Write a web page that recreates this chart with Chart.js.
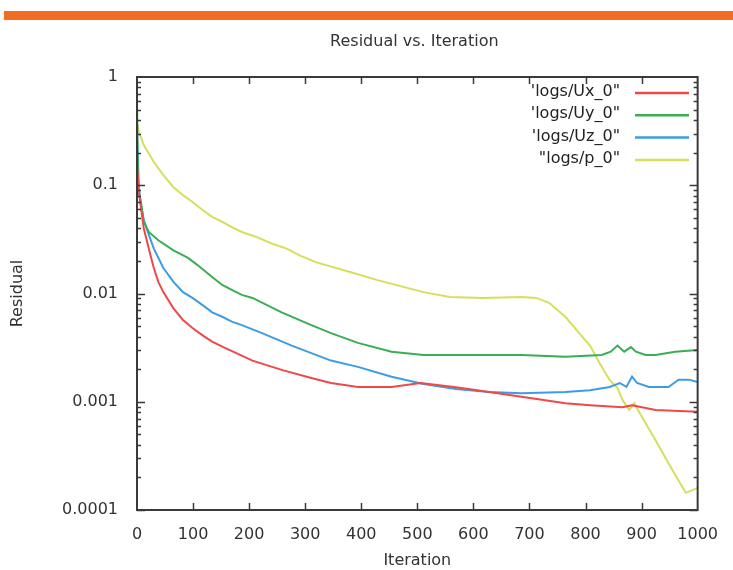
<!DOCTYPE html>
<html>
<head>
<meta charset="utf-8">
<script src="https://cdn.jsdelivr.net/npm/chart.js@4.4.0/dist/chart.umd.min.js"></script>
<style>
  html, body { margin: 0; padding: 0; background: #fff; }
  #wrap { position: relative; width: 733px; height: 570px; }
  #bar { position: absolute; left: 4px; top: 11px; width: 729px; height: 9px; background: #f26c21; }
  canvas { position: absolute; left: 0; top: 0; }
</style>
</head>
<body>
<div id="wrap">
  <canvas id="c" width="733" height="570"></canvas>
  <div id="bar"></div>
</div>
<script>
const chartTitle = 'Residual vs. Iteration';
const xTitle = 'Iteration';
const yTitle = 'Residual';
const yTickValues = [1, 0.1, 0.01, 0.001, 0.0001];
const yTickLabels = ['1', '0.1', '0.01', '0.001', '0.0001'];

const seriesLabels = ['\'logs/Ux_0"', '\'logs/Uy_0"', '\'logs/Uz_0"', '"logs/p_0"'];
const seriesColors = ['#f04848', '#3aad55', '#3e9ce2', '#d6df5c'];

const uxIter = [0, 3.5, 7, 12, 21, 30, 38, 47, 65, 82, 99, 117, 134, 154, 206, 258, 311, 346, 394, 454, 506, 569, 628, 686, 764, 808, 866, 883, 925, 1000];
const uxVal  = [0.15, 0.087, 0.062, 0.040, 0.026, 0.0172, 0.0128, 0.0103, 0.0073, 0.0057, 0.0048, 0.0041, 0.0036, 0.0032, 0.0024, 0.00197, 0.00166, 0.00149, 0.00137, 0.00137, 0.00149, 0.00136, 0.00123, 0.00111, 0.00097, 0.00093, 0.00089, 0.00093, 0.00084, 0.00081];

const uyIter = [0, 2, 7, 12, 21, 38, 65, 91, 108, 134, 152, 169, 187, 206, 258, 311, 346, 394, 454, 511, 599, 686, 764, 829, 845, 857, 869, 881, 890, 907, 925, 960, 1000];
const uyVal  = [0.6, 0.09, 0.070, 0.046, 0.037, 0.031, 0.025, 0.0213, 0.0183, 0.0142, 0.0120, 0.0108, 0.0097, 0.0091, 0.0067, 0.0051, 0.0043, 0.0035, 0.0029, 0.0027, 0.0027, 0.0027, 0.0026, 0.0027, 0.0029, 0.0033, 0.0029, 0.0032, 0.0029, 0.0027, 0.0027, 0.0029, 0.0030];

const uzIter = [0, 3.5, 7, 12, 21, 30, 47, 65, 82, 99, 117, 134, 152, 169, 187, 223, 276, 346, 394, 454, 511, 569, 628, 686, 764, 808, 843, 861, 873, 883, 892, 913, 948, 966, 984, 1000];
const uzVal  = [0.3, 0.094, 0.066, 0.048, 0.035, 0.026, 0.0172, 0.0128, 0.0103, 0.0091, 0.0078, 0.0067, 0.0061, 0.0055, 0.0051, 0.0043, 0.0033, 0.0024, 0.0021, 0.0017, 0.00146, 0.00131, 0.00123, 0.0012, 0.00123, 0.00128, 0.00137, 0.00149, 0.00137, 0.00171, 0.00149, 0.00137, 0.00137, 0.0016, 0.0016, 0.00152];

const pIter = [0, 3.5, 12, 30, 47, 65, 82, 99, 117, 134, 152, 169, 187, 215, 240, 267, 290, 319, 337, 380, 429, 470, 511, 558, 616, 686, 712, 735, 764, 794, 808, 825, 843, 857, 866, 878, 887, 901, 925, 948, 965, 979, 1000];
const pVal  = [0.38, 0.31, 0.235, 0.164, 0.124, 0.096, 0.081, 0.070, 0.059, 0.051, 0.046, 0.041, 0.037, 0.033, 0.029, 0.026, 0.0225, 0.0195, 0.0183, 0.0158, 0.0133, 0.0117, 0.0103, 0.0093, 0.0091, 0.0093, 0.0091, 0.0082, 0.0061, 0.0040, 0.0033, 0.00228, 0.00159, 0.00134, 0.00104, 0.00084, 0.00097, 0.00072, 0.00044, 0.00027, 0.00019, 0.000144, 0.00016];

const xMin = 0, xMax = 1000, xStep = 100;
const yMin = 0.0001, yMax = 1;

function pts(xs, ys) { return xs.map((x, i) => ({ x: x, y: ys[i] })); }
const allIters = [uxIter, uyIter, uzIter, pIter];
const allVals = [uxVal, uyVal, uzVal, pVal];

const FONT = '"DejaVu Sans", sans-serif';
const TEXT = '#333';

const framePlugin = {
  id: 'frame',
  afterDraw(chart) {
    const ctx = chart.ctx;
    const a = chart.chartArea;
    const xs = chart.scales.x, ys = chart.scales.y;
    ctx.save();
    ctx.strokeStyle = '#3a3a3a';
    ctx.lineWidth = 2;
    ctx.strokeRect(a.left, a.top, a.right - a.left, a.bottom - a.top);
    ctx.lineWidth = 1.5;
    ctx.beginPath();
    for (let v = xMin + xStep; v < xMax; v += xStep) {
      const px = Math.round(xs.getPixelForValue(v)) + 0.5;
      ctx.moveTo(px, a.bottom); ctx.lineTo(px, a.bottom - 7);
      ctx.moveTo(px, a.top); ctx.lineTo(px, a.top + 7);
    }
    for (let d = yMin; d < yMax * 0.99; d *= 10) {
      for (let k = 1; k <= 9; k++) {
        const v = d * k;
        const py = Math.round(ys.getPixelForValue(v)) + 0.5;
        const len = k === 1 ? 8 : 4;
        ctx.moveTo(a.left, py); ctx.lineTo(a.left + len, py);
        ctx.moveTo(a.right, py); ctx.lineTo(a.right - len, py);
      }
    }
    ctx.stroke();

    // title
    ctx.fillStyle = TEXT;
    ctx.font = '16px ' + FONT;
    ctx.textAlign = 'center';
    ctx.textBaseline = 'middle';
    ctx.fillText(chartTitle, (a.left + a.right) / 2 - 3, 42);

    // legend
    ctx.font = '16px ' + FONT;
    ctx.textAlign = 'right';
    chart.data.datasets.forEach((ds, i) => {
      const y = 92 + i * 22.3;
      ctx.fillStyle = '#222';
      ctx.fillText(ds.label, 620, y);
      ctx.strokeStyle = ds.borderColor;
      ctx.lineWidth = 2.5;
      ctx.beginPath();
      ctx.moveTo(635, y + 1); ctx.lineTo(689, y + 1);
      ctx.stroke();
    });
    ctx.restore();
  }
};

new Chart(document.getElementById('c'), {
  type: 'line',
  data: {
    datasets: seriesLabels.map((lab, i) => ({
      label: lab,
      data: pts(allIters[i], allVals[i]),
      borderColor: seriesColors[i],
      backgroundColor: seriesColors[i],
      borderWidth: 2,
      pointRadius: 0,
      tension: 0,
      fill: false
    }))
  },
  options: {
    responsive: false,
    animation: false,
    events: [],
    layout: { padding: { top: 77, right: 23, left: 0, bottom: 0 } },
    plugins: { legend: { display: false }, title: { display: false }, tooltip: { enabled: false } },
    scales: {
      x: {
        type: 'linear', min: xMin, max: xMax,
        grid: { display: false, drawTicks: false },
        border: { display: false },
        ticks: { stepSize: xStep, padding: 15, color: TEXT, font: { family: FONT, size: 16 }, maxRotation: 0,
          callback(v) { return String(v); } },
        title: { display: true, text: xTitle, color: TEXT, font: { family: FONT, size: 16 }, padding: { top: 0, bottom: 0 } },
        afterFit(s) { s.height = 60; }
      },
      y: {
        type: 'logarithmic', min: yMin, max: yMax,
        grid: { display: false, drawTicks: false },
        border: { display: false },
        afterBuildTicks(s) { s.ticks = yTickValues.map(v => ({ value: v })); },
        ticks: {
          padding: 19, color: TEXT, font: { family: FONT, size: 16 },
          callback(v) { const i = yTickValues.findIndex(t => Math.abs(t - v) / t < 1e-6); return i >= 0 ? yTickLabels[i] : ''; }
        },
        title: { display: true, text: yTitle, color: TEXT, font: { family: FONT, size: 16 }, padding: { top: 8, bottom: 0 } },
        afterFit(s) { s.width = 137; }
      }
    }
  },
  plugins: [framePlugin]
});
</script>
</body>
</html>
